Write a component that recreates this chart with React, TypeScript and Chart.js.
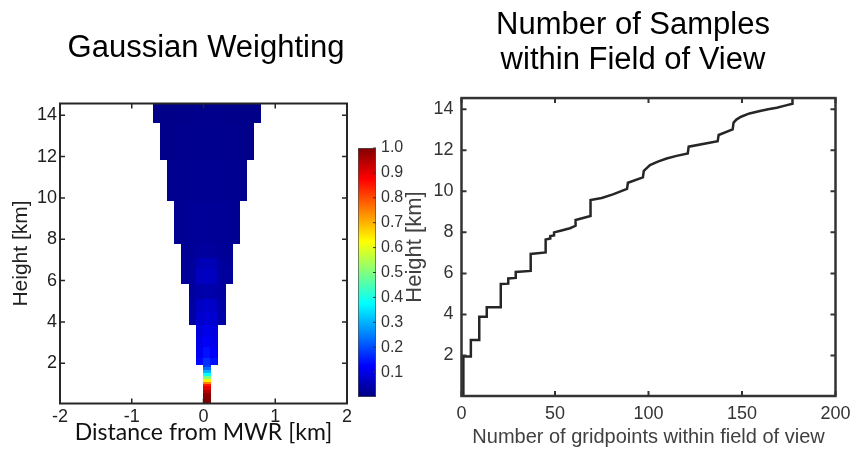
import React, { useEffect, useRef } from "react";
import { Chart, registerables } from "chart.js";

Chart.register(...registerables);

const SANS = "'Liberation Sans', Arial, Helvetica, sans-serif";

// ---------------- Left panel: Gaussian weighting (cross-section) ----------------
const distanceTicks = [-2, -1, 0, 1, 2];
const heightTicks = [2, 4, 6, 8, 10, 12, 14];
const cellWidthKm = 0.1;
const rowBottom = [
  0.05, 0.3, 0.6, 0.75, 0.9, 1.0, 1.1, 1.25, 1.4, 1.55, 1.7, 1.85,
  1.96, 2.3, 2.8, 3.3,
  3.88, 4.5, 5.15,
  5.87, 6.6, 7.1,
  7.8, 9.86, 11.88, 13.66,
];
const rowTop = [
  0.3, 0.6, 0.75, 0.9, 1.0, 1.1, 1.25, 1.4, 1.55, 1.7, 1.85, 1.96,
  2.3, 2.8, 3.3, 3.88,
  4.5, 5.15, 5.87,
  6.6, 7.1, 7.8,
  9.86, 11.88, 13.66, 14.57,
];
const rowLeftEdge = [
  0, 0, 0, 0, 0, 0, 0, 0, 0, 0, 0, 0,
  -0.1, -0.1, -0.1, -0.1,
  -0.2, -0.2, -0.2,
  -0.3, -0.3, -0.3,
  -0.4, -0.5, -0.6, -0.7,
];
const rowWeights = [
  [1.0], [0.99], [0.95], [0.9], [0.85], [0.75], [0.64], [0.5], [0.38], [0.3], [0.23], [0.18],
  [0.13, 0.17, 0.14],
  [0.11, 0.14, 0.12],
  [0.1, 0.12, 0.105],
  [0.09, 0.105, 0.095],
  [0.035, 0.075, 0.085, 0.08, 0.04],
  [0.035, 0.065, 0.075, 0.07, 0.038],
  [0.03, 0.04, 0.045, 0.042, 0.032],
  [0.025, 0.03, 0.06, 0.065, 0.062, 0.032, 0.026],
  [0.022, 0.028, 0.05, 0.055, 0.052, 0.03, 0.024],
  [0.02, 0.024, 0.028, 0.03, 0.029, 0.025, 0.021],
  [0.018, 0.02, 0.022, 0.024, 0.025, 0.024, 0.023, 0.02, 0.018],
  [0.014, 0.015, 0.016, 0.017, 0.018, 0.018, 0.018, 0.017, 0.016, 0.015, 0.014],
  [0.011, 0.012, 0.013, 0.014, 0.014, 0.015, 0.015, 0.015, 0.014, 0.014, 0.013, 0.012, 0.011],
  [0.008, 0.009, 0.01, 0.011, 0.011, 0.012, 0.012, 0.012, 0.012, 0.012, 0.011, 0.011, 0.01, 0.009, 0.008],
];

// ---------------- Colorbar ----------------
const weightTicks = [0.1, 0.2, 0.3, 0.4, 0.5, 0.6, 0.7, 0.8, 0.9, 1.0];
const weightRange = [0, 1];
const jetStops = [0, 0.125, 0.375, 0.625, 0.875, 1];

// ---------------- Right panel: number of samples within FOV ----------------
const countTicks = [0, 50, 100, 150, 200];
const fovHeightTicks = [2, 4, 6, 8, 10, 12, 14];
const gridpointCount = [
  1, 1, 5, 5, 9.5, 9.5, 13.5, 13.5, 21, 21, 25, 25, 29, 29, 37, 37,
  45, 45, 47.5, 47.5, 49.5, 49.5, 53, 58, 61, 61, 69, 69, 75, 81, 88.5, 89,
  97, 97.5, 100.8, 105, 109.7, 115, 121, 121.5, 137, 137.5, 145, 145.5,
  147, 149.5, 154, 159.6, 164, 168.6, 173, 177, 177,
];
const fovHeight = [
  0.02, 1.95, 1.95, 2.75, 2.75, 3.88, 3.88, 4.35, 4.35, 5.48, 5.5, 5.75, 5.78, 6.07, 6.12, 6.95,
  7.02, 7.65, 7.7, 7.82, 7.85, 8.0, 8.08, 8.2, 8.32, 8.6, 8.8, 9.58, 9.68, 9.85, 10.12, 10.42,
  10.68, 11.0, 11.28, 11.45, 11.6, 11.73, 11.85, 12.18, 12.45, 12.75, 13.02, 13.35,
  13.5, 13.64, 13.8, 13.92, 14.0, 14.08, 14.18, 14.27, 14.55,
];

function jet(v: number): string {
  const c = (t: number) => Math.max(0, Math.min(1, t));
  const r = c(1.5 - Math.abs(4 * v - 3));
  const g = c(1.5 - Math.abs(4 * v - 2));
  const b = c(1.5 - Math.abs(4 * v - 1));
  return `rgb(${Math.round(r * 255)},${Math.round(g * 255)},${Math.round(b * 255)})`;
}

const heatmapPlugin = {
  id: "heatmap",
  beforeDatasetsDraw(chart: any) {
    const { ctx, chartArea: a } = chart;
    const xs = chart.scales.x;
    const ys = chart.scales.y;
    ctx.save();
    ctx.beginPath();
    ctx.rect(a.left, a.top, a.right - a.left, a.bottom - a.top);
    ctx.clip();
    chart.data.datasets.forEach((ds: any) => {
      if (!ds.heatmap) return;
      ds.data.forEach((cell: any) => {
        const l = Math.floor(xs.getPixelForValue(cell.x0));
        const r = Math.ceil(xs.getPixelForValue(cell.x1));
        const t = Math.floor(ys.getPixelForValue(cell.y1));
        const b = Math.ceil(ys.getPixelForValue(cell.y0));
        ctx.fillStyle = jet(cell.v);
        ctx.fillRect(l, t, r - l, b - t);
      });
    });
    ctx.restore();
  },
};

const framePlugin = {
  id: "frame",
  afterDatasetsDraw(chart: any, _args: any, opts: any) {
    if (!opts || !opts.enabled) return;
    const { ctx, chartArea: a } = chart;
    const len = opts.len;
    ctx.save();
    ctx.strokeStyle = opts.color;
    ctx.lineWidth = opts.tickWidth;
    ctx.beginPath();
    const xs = opts.xScale ? chart.scales[opts.xScale] : null;
    const ys = opts.yScale ? chart.scales[opts.yScale] : null;
    if (xs) {
      xs.ticks.forEach((t: any) => {
        const p = xs.getPixelForValue(t.value);
        if (opts.bottom) { ctx.moveTo(p, a.bottom); ctx.lineTo(p, a.bottom - len); }
        if (opts.top) { ctx.moveTo(p, a.top); ctx.lineTo(p, a.top + len); }
      });
    }
    if (ys) {
      ys.ticks.forEach((t: any) => {
        const p = ys.getPixelForValue(t.value);
        if (opts.left) { ctx.moveTo(a.left, p); ctx.lineTo(a.left + len, p); }
        if (opts.right) { ctx.moveTo(a.right, p); ctx.lineTo(a.right - len, p); }
      });
    }
    ctx.stroke();
    if (opts.box) {
      ctx.lineWidth = opts.boxWidth;
      ctx.strokeRect(a.left, a.top, a.right - a.left, a.bottom - a.top);
    }
    ctx.restore();
  },
};

function fixedTicks(values: number[]) {
  return (s: any) => {
    s.ticks = values.map((v) => ({ value: v }));
  };
}

const hiddenSpacer = (width: number) => ({
  type: "linear",
  position: "right",
  min: 0,
  max: 1,
  afterFit: (s: any) => { s.width = width; },
  grid: { display: false, drawTicks: false },
  border: { display: false },
  ticks: { display: false },
});

function leftConfig(): any {
  const cells: any[] = [];
  rowBottom.forEach((y0, r) => {
    rowWeights[r].forEach((v, c) => {
      const x0 = rowLeftEdge[r] + c * cellWidthKm;
      cells.push({ x: x0 + cellWidthKm / 2, y: (y0 + rowTop[r]) / 2, x0, x1: x0 + cellWidthKm, y0, y1: rowTop[r], v });
    });
  });
  return {
    type: "scatter",
    data: {
      datasets: [{ label: "Gaussian weight", heatmap: true, data: cells, pointRadius: 0, pointHoverRadius: 0, showLine: false }],
    },
    options: {
      responsive: false,
      animation: false,
      devicePixelRatio: 1,
      events: [],
      layout: { padding: 0 },
      plugins: {
        legend: { display: false },
        tooltip: { enabled: false },
        title: {
          display: true,
          text: "Gaussian Weighting",
          color: "#000",
          font: { family: SANS, size: 31, weight: "normal", lineHeight: 1.2 },
          padding: { top: 30, bottom: 36.3 },
        },
        frame: { enabled: true, color: "#262626", tickWidth: 1.5, boxWidth: 2, len: 5, xScale: "x", yScale: "y", left: true, right: true, top: true, bottom: true, box: true },
      },
      scales: {
        x: {
          type: "linear",
          position: "bottom",
          min: -2,
          max: 2,
          afterBuildTicks: fixedTicks(distanceTicks),
          afterFit: (s: any) => { s.height = 51.5; },
          grid: { display: false, drawTicks: false },
          border: { display: false },
          ticks: { color: "#1f1f1f", font: { family: SANS, size: 18 }, padding: 3, maxRotation: 0, autoSkip: false, callback: (v: any) => String(v) },
          title: { display: true, text: "Distance from MWR [km]", color: "#111", font: { family: "Lato", size: 23 }, padding: { top: 0, bottom: 9 } },
        },
        y: {
          type: "linear",
          position: "left",
          min: 0.05,
          max: 14.57,
          afterBuildTicks: fixedTicks(heightTicks),
          afterFit: (s: any) => { s.width = 60; },
          grid: { display: false, drawTicks: false },
          border: { display: false },
          ticks: { color: "#1f1f1f", font: { family: SANS, size: 18 }, padding: 3, autoSkip: false, callback: (v: any) => String(v) },
          title: { display: true, text: "Height [km]", color: "#222", font: { family: SANS, size: 21 }, padding: { top: 9, bottom: 0 } },
        },
        yPad: hiddenSpacer(65),
      },
    },
    plugins: [heatmapPlugin, framePlugin],
  };
}

function colorbarConfig(): any {
  return {
    type: "bar",
    data: {
      labels: ["weight"],
      datasets: [
        {
          label: "colormap",
          data: [[weightRange[0], weightRange[1]]],
          backgroundColor: (c: any) => {
            const chart = c.chart;
            const ys = chart.scales.y;
            if (!ys || !chart.chartArea) return jet(0.5);
            const g = chart.ctx.createLinearGradient(0, ys.getPixelForValue(0), 0, ys.getPixelForValue(1));
            jetStops.forEach((s) => g.addColorStop(s, jet(s)));
            return g;
          },
          borderColor: "#4d4d4d",
          borderWidth: 1,
          borderSkipped: false,
          barPercentage: 1,
          categoryPercentage: 1,
        },
      ],
    },
    options: {
      responsive: false,
      animation: false,
      devicePixelRatio: 1,
      events: [],
      layout: { padding: { left: 6, right: 0, top: 148, bottom: 58 } },
      plugins: {
        legend: { display: false },
        tooltip: { enabled: false },
        frame: { enabled: true, color: "#333", tickWidth: 1, len: 3, yScale: "y", right: true, box: false },
      },
      scales: {
        x: { type: "category", display: false },
        y: {
          type: "linear",
          position: "right",
          min: weightRange[0],
          max: weightRange[1],
          afterBuildTicks: fixedTicks(weightTicks),
          afterFit: (s: any) => { s.width = 36; },
          grid: { display: false, drawTicks: false },
          border: { display: false },
          ticks: { color: "#333", font: { family: SANS, size: 16 }, padding: 5, autoSkip: false, callback: (v: any) => Number(v).toFixed(1) },
        },
      },
    },
    plugins: [framePlugin],
  };
}

function rightConfig(): any {
  return {
    type: "scatter",
    data: {
      datasets: [
        {
          label: "Number of gridpoints",
          data: gridpointCount.map((x, i) => ({ x, y: fovHeight[i] })),
          showLine: true,
          borderColor: "#262626",
          borderWidth: 2.5,
          pointRadius: 0,
          pointHoverRadius: 0,
          fill: false,
          tension: 0,
          borderJoinStyle: "miter",
        },
      ],
    },
    options: {
      responsive: false,
      animation: false,
      devicePixelRatio: 1,
      events: [],
      layout: { padding: 0 },
      plugins: {
        legend: { display: false },
        tooltip: { enabled: false },
        title: {
          display: true,
          text: ["Number of Samples", "within Field of View"],
          color: "#000",
          font: { family: SANS, size: 31, weight: "normal", lineHeight: 1.13 },
          padding: { top: 8, bottom: 20 },
        },
        frame: { enabled: true, color: "#333", tickWidth: 2, boxWidth: 2.5, len: 5, xScale: "x", yScale: "y", left: true, right: true, top: true, bottom: true, box: true },
      },
      scales: {
        x: {
          type: "linear",
          position: "bottom",
          min: 0,
          max: 200,
          afterBuildTicks: fixedTicks(countTicks),
          afterFit: (s: any) => { s.height = 59; },
          grid: { display: false, drawTicks: false },
          border: { display: false },
          ticks: { color: "#333", font: { family: SANS, size: 18 }, padding: 7, maxRotation: 0, autoSkip: false, callback: (v: any) => String(v) },
          title: { display: true, text: "Number of gridpoints within field of view", color: "#404040", font: { family: SANS, size: 20 }, padding: { top: 0, bottom: 5.5 } },
        },
        y: {
          type: "linear",
          position: "left",
          min: 0.02,
          max: 14.55,
          afterBuildTicks: fixedTicks(fovHeightTicks),
          afterFit: (s: any) => { s.width = 61.5; },
          grid: { display: false, drawTicks: false },
          border: { display: false },
          ticks: { color: "#333", font: { family: SANS, size: 18 }, padding: 8, autoSkip: false, callback: (v: any) => String(v) },
          title: { display: true, text: "Height [km]", color: "#404040", font: { family: SANS, size: 22 }, padding: { top: 2, bottom: 0 } },
        },
        yPad: hiddenSpacer(30.5),
      },
    },
    plugins: [framePlugin],
  };
}

function ChartCanvas(props: { make: () => any; left: number; top: number; width: number; height: number }) {
  const ref = useRef<HTMLCanvasElement>(null);
  useEffect(() => {
    const chart = new Chart(ref.current as HTMLCanvasElement, props.make());
    return () => chart.destroy();
  }, []);
  return (
    <canvas
      ref={ref}
      width={props.width}
      height={props.height}
      style={{ position: "absolute", left: props.left, top: props.top, width: props.width, height: props.height, display: "block" }}
    />
  );
}

export default function App() {
  return (
    <div style={{ position: "fixed", left: 0, top: 0, width: 852, height: 455, overflow: "hidden", background: "#fff" }}>
      <ChartCanvas make={leftConfig} left={0} top={0} width={412} height={455} />
      <ChartCanvas make={rightConfig} left={400} top={0} width={466} height={455} />
      <ChartCanvas make={colorbarConfig} left={352} top={0} width={60} height={455} />
    </div>
  );
}
